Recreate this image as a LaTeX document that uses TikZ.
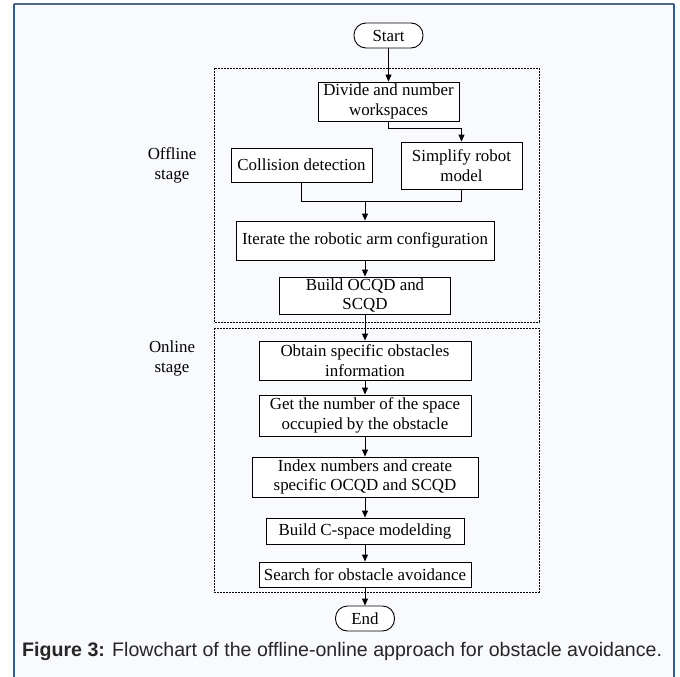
\documentclass[tikz,border=0pt]{standalone}
\usepackage{fontspec}
\setmainfont{Liberation Serif}
\newfontfamily\capfont{Liberation Sans}
\usetikzlibrary{arrows.meta}
\definecolor{framec}{RGB}{44,90,145}
\definecolor{bgc}{RGB}{248,250,253}
\begin{document}
\begin{tikzpicture}[x=1pt,y=-1pt,
  box/.style={draw=black,line width=0.9pt,fill=white,align=center,inner sep=0pt,
    font=\fontsize{16.9}{19.5}\selectfont},
  term/.style={box,rounded corners=12pt},
  conn/.style={line width=0.9pt},
  arr/.style={conn,-{Triangle[length=7pt,width=6pt]}},
  stagebox/.style={draw=black,line width=0.8pt,dash pattern=on 2pt off 1pt},
  stagelabel/.style={align=center,font=\fontsize{16.9}{20}\selectfont}]
\useasboundingbox (0,0) rectangle (680,677);
\fill[bgc] (14,4) rectangle (674,677);
\draw[framec!60!gray,line width=1.5pt] (14,4) -- (674,4);
\draw[framec,line width=2pt] (14,4) -- (14,677);
\draw[framec,line width=2pt] (674,4) -- (674,677);

% stage boxes
\draw[stagebox] (214,68) rectangle (539,322);
\draw[stagebox] (214,328) rectangle (539,592);
\node[stagelabel] (offl) at (172,165) {Offline\\stage};
\node[stagelabel] (onl) at (172,358) {Online\\stage};

% nodes
\node[term,minimum width=69pt,minimum height=25pt] (start) at (388.5,35.5) {Start};
\node[box,minimum width=141pt,minimum height=39pt] (divide) at (388.5,101.5) {Divide and number\\workspaces};
\node[box,minimum width=121pt,minimum height=47pt] (simplify) at (461.5,165.5) {Simplify robot\\model};
\node[box,minimum width=141pt,minimum height=34pt] (collision) at (301.5,165) {Collision detection};
\node[box,minimum width=258pt,minimum height=39pt] (iterate) at (365,240.5) {Iterate the robotic arm configuration};
\node[box,minimum width=171pt,minimum height=37pt] (build) at (365,295.5) {Build OCQD and\\SCQD};
\node[box,minimum width=212pt,minimum height=39pt] (obtain) at (365,360.5) {Obtain specific obstacles\\information};
\node[box,minimum width=212pt,minimum height=41pt] (get) at (365,415.5) {Get the number of the space\\occupied by the obstacle};
\node[box,minimum width=226pt,minimum height=40pt] (index) at (365,477) {Index numbers and create\\specific OCQD and SCQD};
\node[box,minimum width=198pt,minimum height=26pt] (cspace) at (365,531) {Build C-space modelding};
\node[box,minimum width=212pt,minimum height=25pt] (search) at (365,574.5) {Search for obstacle avoidance};
\node[term,minimum width=59pt,minimum height=25pt] (end) at (365,618.5) {End};

% connectors
\coordinate (bend1) at (388.5,128);
\coordinate (bend2) at (461.5,128);
\coordinate (merge) at (365,201);
\coordinate (cl) at (301.5,201);
\coordinate (sr) at (461.5,201);
\draw[arr] (start) -- (divide);
\draw[arr] (divide.south) -- (bend1) -- (bend2) -- (simplify.north);
\draw[conn] (collision.south) -- (cl) -- (sr) -- (simplify.south);
\draw[arr] (merge) -- (iterate.north);
\draw[arr] (iterate) -- (build);
\draw[arr] (build) -- (obtain);
\draw[arr] (obtain) -- (get);
\draw[arr] (get) -- (index);
\draw[arr] (index) -- (cspace);
\draw[arr] (cspace) -- (search);
\draw[arr] (search) -- (end);

% caption
\node[anchor=west,inner sep=0pt,font=\capfont\fontsize{19.6}{22}\selectfont,text=black!85] (cap) at (22,651)
  {\textbf{Figure 3:} Flowchart of the offline-online approach for obstacle avoidance.};
\end{tikzpicture}
\end{document}
